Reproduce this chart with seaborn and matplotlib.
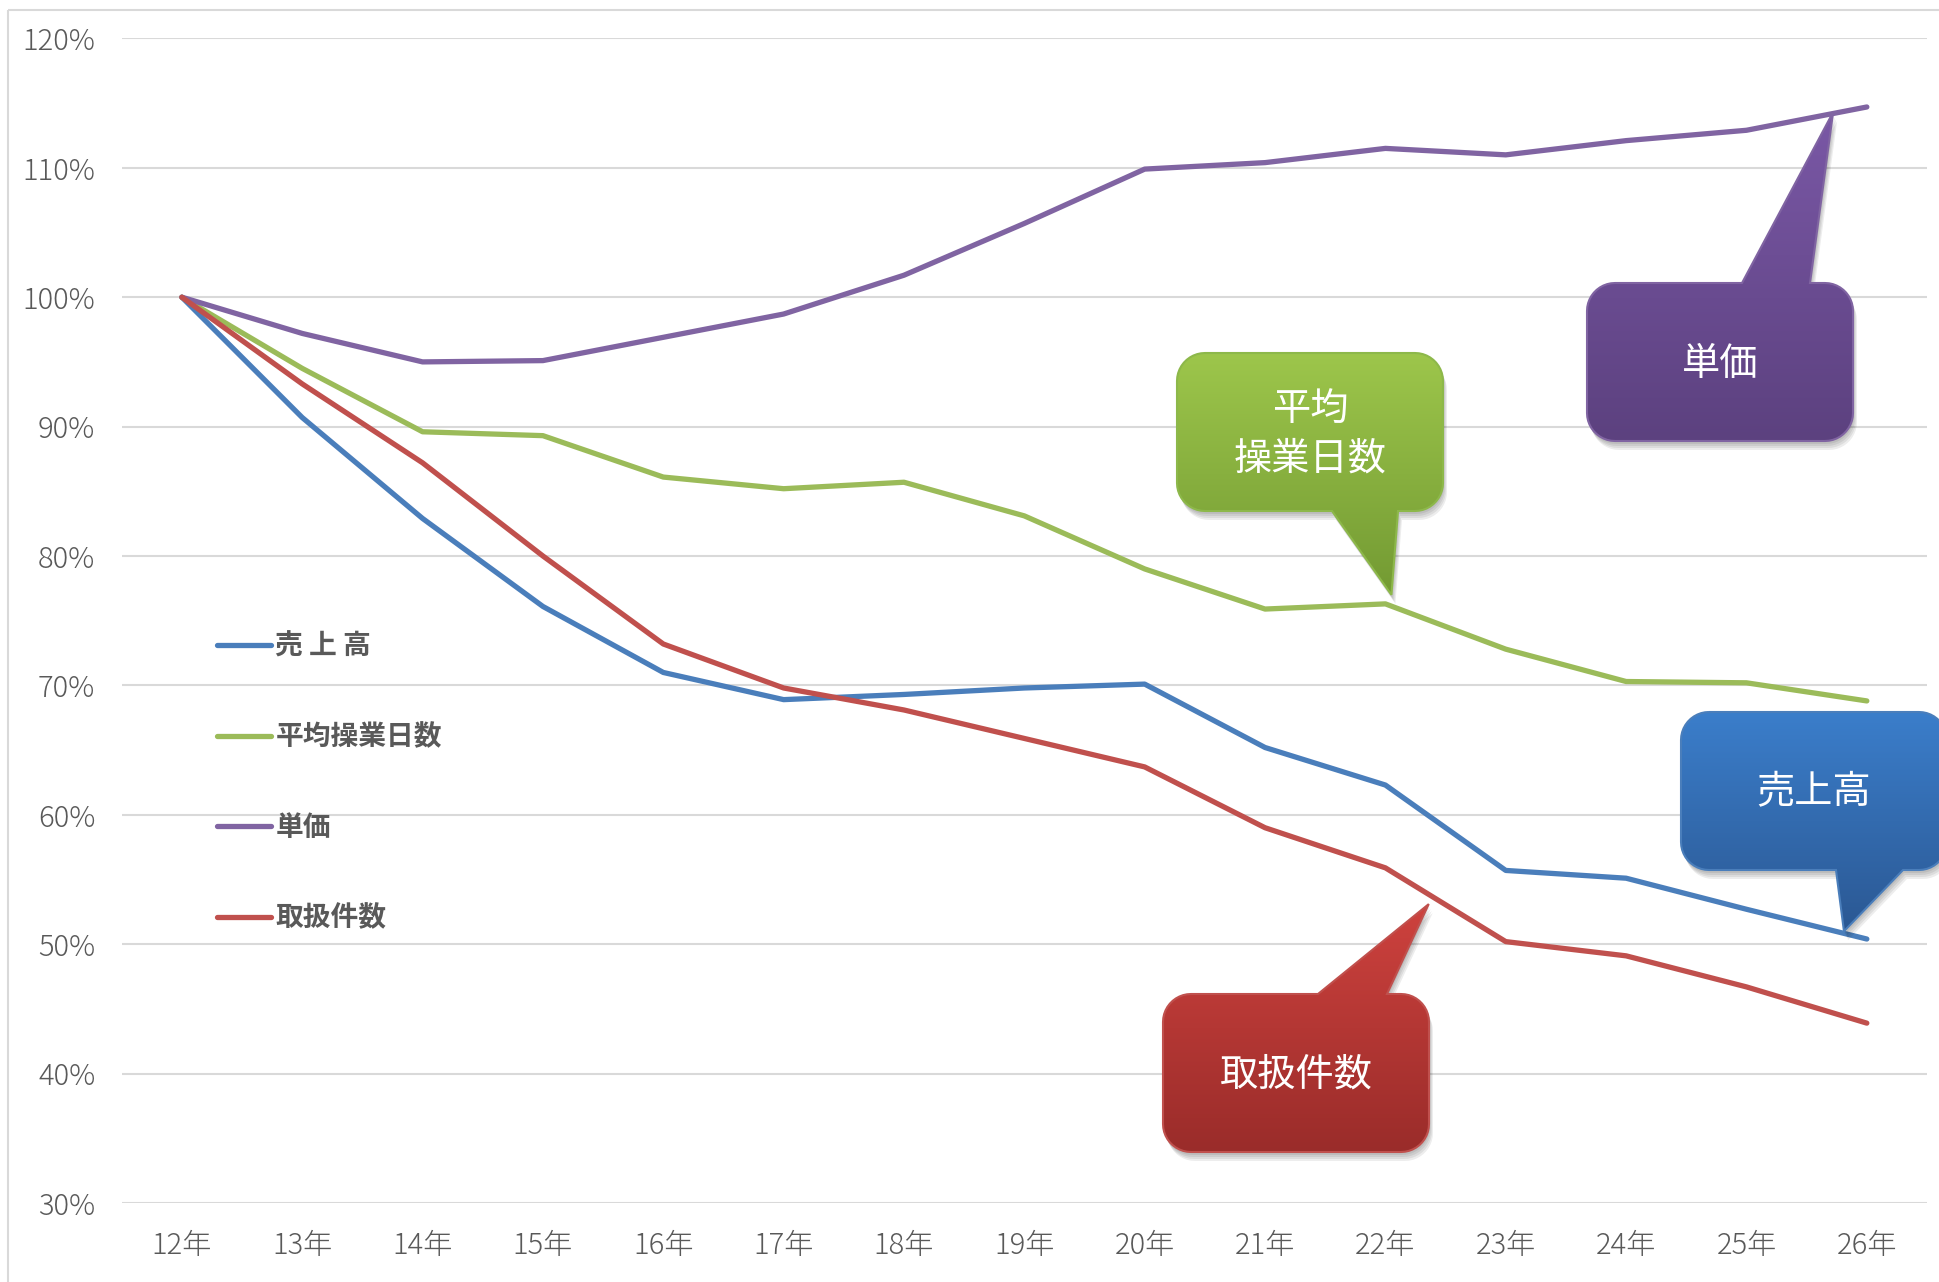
import numpy as np
import pandas as pd
import matplotlib
matplotlib.use("Agg")
import matplotlib.pyplot as plt
import seaborn as sns
from matplotlib.patches import Polygon, Rectangle
from matplotlib.colors import LinearSegmentedColormap

# ---------------- data ----------------
years = ["12年", "13年", "14年", "15年", "16年", "17年", "18年", "19年",
         "20年", "21年", "22年", "23年", "24年", "25年", "26年"]
sales = [100, 90.7, 82.9, 76.1, 71.0, 68.9, 69.3, 69.8, 70.1, 65.2, 62.3, 55.7, 55.1, 52.7, 50.4]
days = [100, 94.5, 89.6, 89.3, 86.1, 85.2, 85.7, 83.1, 79.0, 75.9, 76.3, 72.8, 70.3, 70.2, 68.8]
price = [100, 97.2, 95.0, 95.1, 96.9, 98.7, 101.7, 105.7, 109.9, 110.4, 111.5, 111.0, 112.1, 112.9, 114.7]
count = [100, 93.3, 87.2, 80.0, 73.2, 69.8, 68.1, 65.9, 63.7, 59.0, 55.9, 50.2, 49.1, 46.7, 43.9]
series_names = ["売上高", "平均操業日数", "単価", "取扱件数"]
legend_labels = ["売 上 高", "平均操業日数", "単価", "取扱件数"]
series_values = [sales, days, price, count]
y_ticks = [30, 40, 50, 60, 70, 80, 90, 100, 110, 120]

colors = {"売上高": "#4A7EBB", "平均操業日数": "#9BBB59", "単価": "#8064A2", "取扱件数": "#C0504D"}

rows = []
for name, vals in zip(series_names, series_values):
    for i, v in enumerate(vals):
        rows.append({"idx": i, "value": v, "series": name})
df = pd.DataFrame(rows)

# ---------------- figure ----------------
W, H = 1940, 1282
DPI = 100
sns.set_theme(style="white")
plt.rcParams['font.family'] = ['Noto Sans CJK JP', 'DejaVu Sans']

fig = plt.figure(figsize=(W / DPI, H / DPI), dpi=DPI)
fig.patch.set_facecolor("white")
ax = fig.add_axes([121.7 / W, 1 - 1203 / H, (1927 - 121.7) / W, (1203 - 38.4) / H])

LW = 3.8
sns.lineplot(data=df, x="idx", y="value", hue="series", hue_order=series_names,
             palette=colors, linewidth=LW, sort=False, ax=ax,
             solid_capstyle="round", solid_joinstyle="round", legend=True)

ax.set_xlim(-0.5, len(years) - 0.5)
ax.set_ylim(30, 120)
ax.set_xticks(range(len(years)))
ax.set_xticklabels(years)
ax.set_yticks(y_ticks)
ax.set_yticklabels([f"{t}%" for t in y_ticks])
ax.set_xlabel("")
ax.set_ylabel("")
for s in ax.spines.values():
    s.set_visible(False)
ax.grid(axis="y", color="#d9d9d9", linewidth=1.5)
ax.set_axisbelow(True)
ax.tick_params(axis="both", length=0, colors="#595959")
ax.tick_params(axis="y", pad=19)
ax.tick_params(axis="x", pad=20)
tick_font = ['Noto Sans CJK JP', 'DejaVu Sans']
for lab in ax.get_yticklabels() + ax.get_xticklabels():
    lab.set_fontfamily(tick_font)
    lab.set_fontsize(21)
    lab.set_fontweight("light")
    lab.set_color("#595959")

# legend
handles, labels = ax.get_legend_handles_labels()
hmap = dict(zip(labels, handles))
ordered = [hmap[n] for n in series_names]
for h in ordered:
    h.set_linewidth(LW)
    h.set_solid_capstyle("round")
leg = ax.legend(ordered, legend_labels, loc="upper left",
                bbox_to_anchor=(217 / W, 1 - 633 / H), bbox_transform=fig.transFigure,
                frameon=False, fontsize=20, handlelength=1.95, handletextpad=0.15,
                labelspacing=2.25, borderpad=0, borderaxespad=0)
for t in leg.get_texts():
    t.set_color("#595959")
    t.set_fontweight("bold")

# ---------------- callouts ----------------
ov = fig.add_axes([0, 0, 1, 1], zorder=5)
ov.set_xlim(0, W)
ov.set_ylim(H, 0)
ov.axis("off")
ov.patch.set_alpha(0)

# outer chart frame
ov.add_patch(Rectangle((8, 10), W, H, fill=False, edgecolor="#d9d9d9", linewidth=1.5))


def data_to_px(xv, yv):
    dx, dy = ax.transData.transform((xv, yv))
    return dx * W / fig.bbox.width, H - dy * H / fig.bbox.height


def callout_vertices(x0, y0, w, h, r, side, b0, b1, tip):
    pts = []

    def arc(cx, cy, a0, a1):
        for t in np.linspace(np.radians(a0), np.radians(a1), 12):
            pts.append((cx + r * np.cos(t), cy + r * np.sin(t)))

    pts.append((x0 + r, y0))
    if side == "top":
        pts += [(b0, y0), tip, (b1, y0)]
    arc(x0 + w - r, y0 + r, -90, 0)
    arc(x0 + w - r, y0 + h - r, 0, 90)
    if side == "bottom":
        pts += [(b1, y0 + h), tip, (b0, y0 + h)]
    arc(x0 + r, y0 + h - r, 90, 180)
    arc(x0 + r, y0 + r, 180, 270)
    return np.array(pts)


BW, BH, BR = 266, 158, 28
callouts = [
    ("平均\n操業日数", 1177, 353, "bottom", 1332, 1398, (10.05, 77.0), "#9DC64B", "#739A33", "#8DB84A"),
    ("単価", 1587, 283, "top", 1742, 1810, (13.72, 114.3), "#7A58A6", "#5C417F", "#8064A2"),
    ("売上高", 1681, 712, "bottom", 1836, 1903, (13.81, 51.0), "#3B7ECB", "#2B5893", "#4A7EBB"),
    ("取扱件数", 1163, 994, "top", 1318, 1387, (10.36, 53.1), "#CE423E", "#9A2C2A", "#C0504D"),
]

for text, bx, by, side, b0, b1, tipd, ctop, cbot, cedge in callouts:
    tip = data_to_px(*tipd)
    verts = callout_vertices(bx, by, BW, BH, BR, side, b0, b1, tip)
    for ox, oy in [(1, 3), (2, 5), (3, 7), (4, 9)]:
        ov.add_patch(Polygon(verts + np.array([ox, oy]), closed=True,
                             facecolor="black", edgecolor="none", alpha=0.07))
    shape = Polygon(verts, closed=True, facecolor="none", edgecolor="none")
    ov.add_patch(shape)
    ytop = min(verts[:, 1].min(), by)
    ybot = verts[:, 1].max()
    cmap = LinearSegmentedColormap.from_list("g", [ctop, cbot])
    im = ov.imshow(np.linspace(0, 1, 256).reshape(-1, 1), cmap=cmap, aspect="auto",
                   extent=[bx - 5, bx + BW + 5, ybot, ytop], origin="upper",
                   interpolation="bilinear", zorder=2)
    im.set_clip_path(shape)
    ov.add_patch(Polygon(verts, closed=True, facecolor="none", edgecolor=cedge,
                         linewidth=1.5, zorder=3))
    ov.text(bx + BW / 2, by + BH / 2 + 2, text, ha="center", va="center", color="white",
            fontsize=27.5, linespacing=1.35, zorder=4,
            family=['Noto Sans CJK JP', 'DejaVu Sans'], fontweight="regular")

fig.savefig("out.png", dpi=DPI, facecolor="white")
